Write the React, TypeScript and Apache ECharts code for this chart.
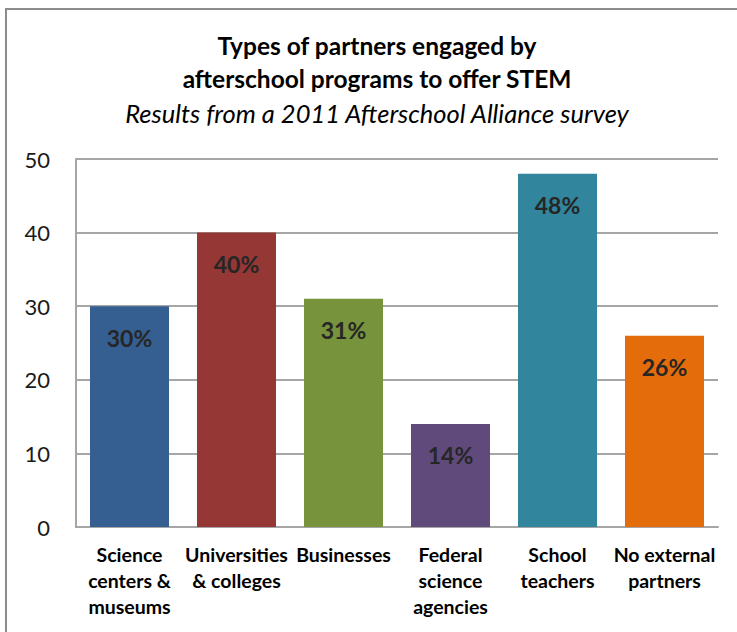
import React, { useEffect, useRef } from "react";
import * as echarts from "echarts";

const categories = [
  "Science\ncenters &\nmuseums",
  "Universities\n& colleges",
  "Businesses",
  "Federal\nscience\nagencies",
  "School\nteachers",
  "No external\npartners",
];
const values = [30, 40, 31, 14, 48, 26];
const barColors = ["#355f91", "#953735", "#77933c", "#604a7b", "#31859c", "#e46c0a"];
const titleLines = ["Types of partners engaged by", "afterschool programs to offer STEM"];
const subtitle = "Results from a 2011 Afterschool Alliance survey";

const FONT = "Lato, 'Open Sans', sans-serif";

export default function App() {
  const ref = useRef<HTMLDivElement>(null);
  useEffect(() => {
    if (!ref.current) return;
    const chart = echarts.init(ref.current, undefined, { renderer: "svg" });
    chart.setOption({
      animation: false,
      backgroundColor: "#ffffff",
      graphic: [
        {
          type: "rect",
          shape: { x: 6, y: 9, width: 800, height: 700 },
          style: { fill: "none", stroke: "#8c8c8c", lineWidth: 2 },
          silent: true,
        },
        {
          type: "text",
          x: 377,
          y: 45,
          style: {
            text: titleLines[0],
            font: `bold 24.5px ${FONT}`,
            fill: "#000000",
            textAlign: "center",
            textVerticalAlign: "middle",
          },
        },
        {
          type: "text",
          x: 377,
          y: 78,
          style: {
            text: titleLines[1],
            font: `bold 24.5px ${FONT}`,
            fill: "#000000",
            textAlign: "center",
            textVerticalAlign: "middle",
          },
        },
        {
          type: "text",
          x: 377,
          y: 113,
          style: {
            text: subtitle,
            font: `italic 25.5px ${FONT}`,
            fill: "#000000",
            textAlign: "center",
            textVerticalAlign: "middle",
          },
        },
      ],
      grid: { left: 76, right: 19, top: 159, bottom: 105, containLabel: false },
      xAxis: {
        type: "category",
        data: categories,
        axisLine: { show: true, lineStyle: { color: "#a6a6a6", width: 2 } },
        axisTick: { show: false },
        axisLabel: {
          interval: 0,
          color: "#000000",
          fontFamily: FONT,
          fontWeight: "bold",
          fontSize: 19.5,
          lineHeight: 26,
          margin: 14,
          align: "center",
        },
      },
      yAxis: {
        type: "value",
        min: 0,
        max: 50,
        interval: 10,
        axisLine: { show: true, lineStyle: { color: "#a6a6a6", width: 2 } },
        axisTick: { show: false },
        splitLine: { show: true, lineStyle: { color: "#a6a6a6", width: 2 } },
        axisLabel: {
          color: "#1a1a1a",
          fontFamily: FONT,
          fontSize: 22,
          margin: 26,
        },
      },
      series: [
        {
          type: "bar",
          data: values.map((v, i) => ({ value: v, itemStyle: { color: barColors[i] } })),
          barWidth: 79,
          label: {
            show: true,
            position: "insideTop",
            distance: 20,
            formatter: "{c}%",
            color: "#262626",
            fontFamily: FONT,
            fontWeight: "bold",
            fontSize: 23,
          },
        },
      ],
    });
    return () => chart.dispose();
  }, []);
  return (
    <div
      ref={ref}
      style={{ position: "fixed", left: 0, top: 0, width: 737, height: 632, background: "#fff" }}
    />
  );
}
